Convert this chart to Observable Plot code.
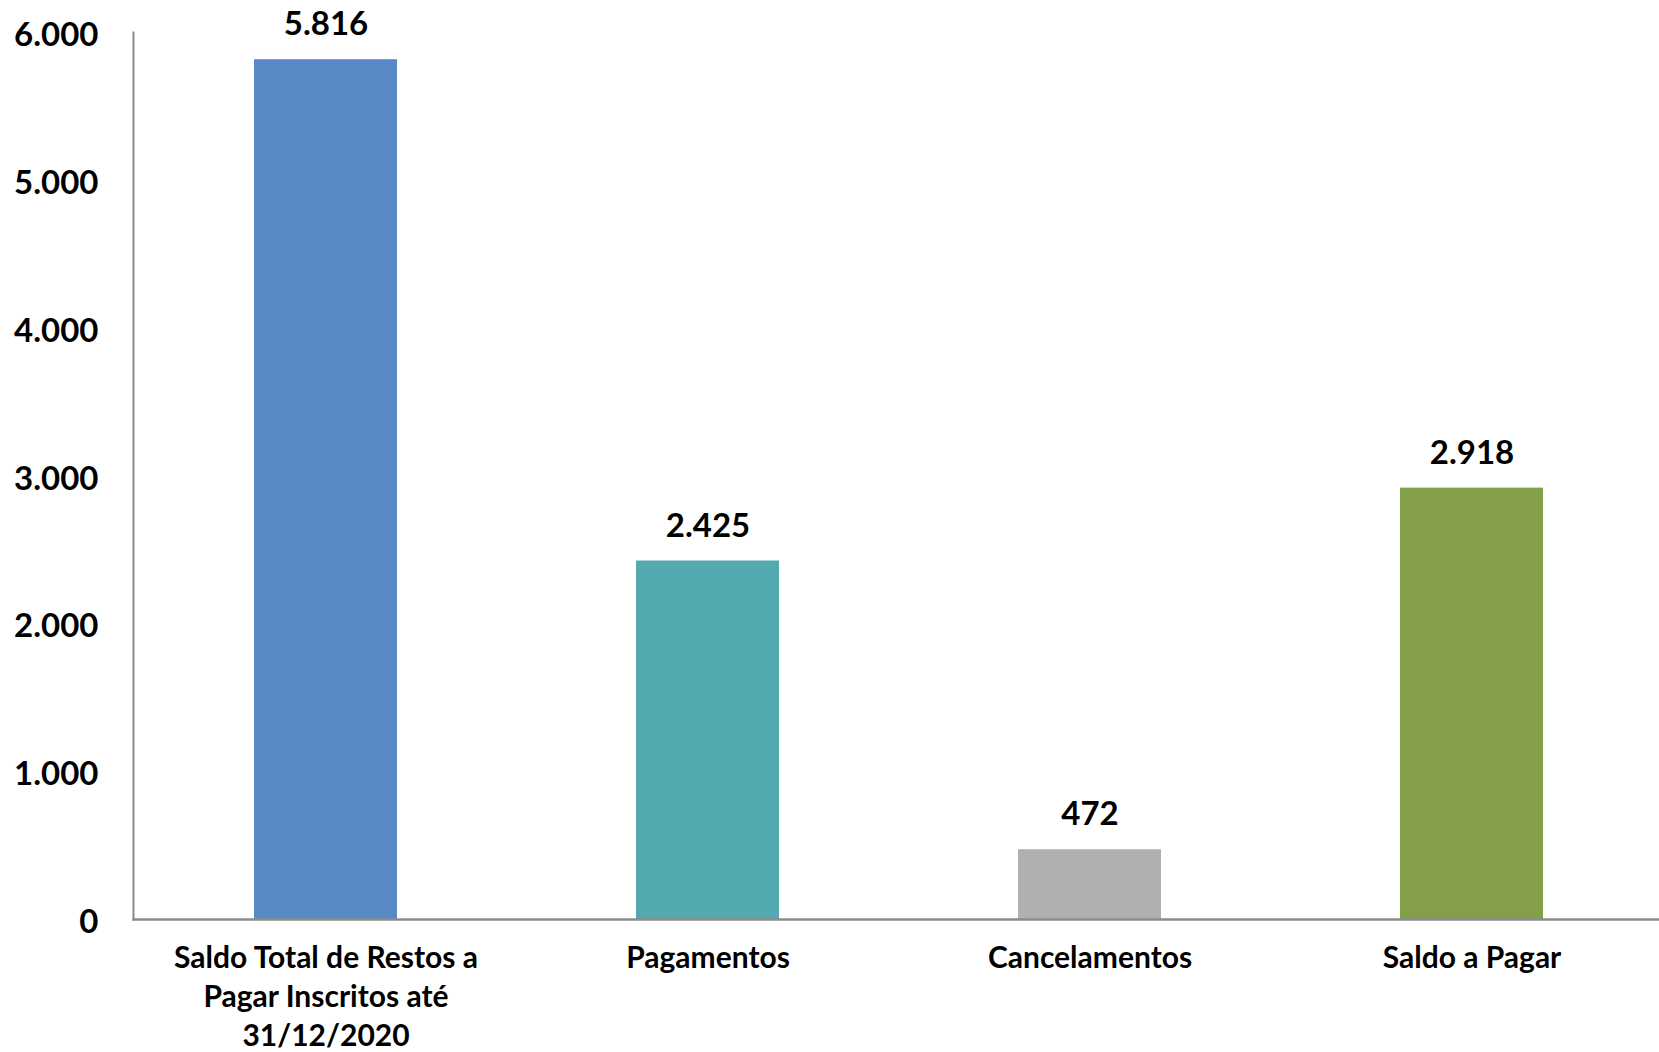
<!DOCTYPE html>
<html>
<head>
<meta charset="utf-8">
<script src="https://cdn.jsdelivr.net/npm/d3@7"></script>
<script src="https://cdn.jsdelivr.net/npm/@observablehq/plot@0.6"></script>
<style>
  html, body { margin: 0; padding: 0; background: #fff; }
  #chart svg { display: block; }
</style>
</head>
<body>
<div id="chart"></div>
<script>
const categories = ["Saldo Total de Restos a Pagar Inscritos até 31/12/2020", "Pagamentos", "Cancelamentos", "Saldo a Pagar"];
const categoryLabels = ["Saldo Total de Restos a\nPagar Inscritos até\n31/12/2020", "Pagamentos", "Cancelamentos", "Saldo a Pagar"];
const values = [5816, 2425, 472, 2918];
const yTicks = [0, 1000, 2000, 3000, 4000, 5000, 6000];
const barColors = ["#5889C6", "#52A9B0", "#B0B0B0", "#839F4A"];

const data = categories.map((c, i) => ({category: c, value: values[i]}));
const fmt = d => d3.format(",")(d).replace(/,/g, ".");
const labelOf = new Map(categories.map((c, i) => [c, categoryLabels[i]]));

const chart = Plot.plot({
  width: 1659,
  height: 1052,
  marginLeft: 133,
  marginRight: 0,
  marginTop: 32,
  marginBottom: 133,
  style: {fontFamily: "Lato, sans-serif", fontWeight: "bold", color: "#000", background: "#fff"},
  x: {domain: categories, range: [133, 1663], paddingInner: 0.626, paddingOuter: 0.313},
  y: {domain: [0, 6000]},
  color: {domain: categories, range: barColors},
  marks: [
    Plot.barY(data, {x: "category", y: "value", fill: "category"}),
    Plot.text(data, {x: "category", y: "value", text: d => fmt(d.value), dy: -35, fontSize: 33, fontWeight: "bold", fill: "#000"}),
    Plot.frame({anchor: "left", stroke: "#8c8c8c", strokeWidth: 2, strokeOpacity: 1}),
    Plot.frame({anchor: "bottom", stroke: "#8c8c8c", strokeWidth: 2.5, strokeOpacity: 1}),
    Plot.axisY({ticks: yTicks, tickFormat: fmt, tickSize: 0, tickPadding: 35, dy: 3, fontSize: 33, fontWeight: "bold", fill: "#000", label: null}),
    Plot.axisX({tickFormat: c => labelOf.get(c), tickSize: 0, tickPadding: 20, fontSize: 30, fontWeight: "bold", fill: "#000", lineHeight: 1.315, label: null})
  ]
});
document.getElementById("chart").appendChild(chart);
</script>
</body>
</html>
